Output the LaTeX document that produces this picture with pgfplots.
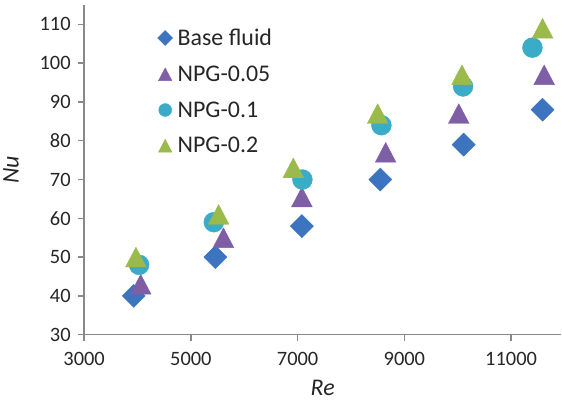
\documentclass[border=0pt]{standalone}
\usepackage{fontspec}
\setmainfont{Carlito}
\usepackage{pgfplots}
\pgfplotsset{compat=1.18}
\definecolor{cBase}{HTML}{3C74C0}
\definecolor{cP}{HTML}{7E5FA6}
\definecolor{cC}{HTML}{3BACC8}
\definecolor{cG}{HTML}{9ABA4C}
\definecolor{axgray}{HTML}{898989}
\definecolor{txt}{HTML}{262626}
\begin{document}
\begin{tikzpicture}
\begin{axis}[
  scale only axis,
  width=479pt, height=331pt,
  xmin=3000, xmax=11940,
  ymin=30, ymax=115,
  xtick={3000,5000,7000,9000,11000},
  ytick={30,40,...,110},
  scaled x ticks=false, scaled y ticks=false,
  axis x line=bottom, axis y line=left,
  axis line style={-, draw=axgray, line width=1.5pt},
  tick style={draw=axgray, line width=1.5pt},
  tick align=outside,
  major tick length=6pt,
  /pgf/number format/assume math mode=true,
  /pgf/number format/set thousands separator={},
  tick label style={font=\fontsize{20.5}{22}\selectfont, text=txt},
  xticklabel style={yshift=-8pt},
  yticklabel style={xshift=-4pt},
  xlabel={\textit{Re}}, ylabel={\textit{Nu}},
  label style={font=\fontsize{24}{26}\selectfont, text=txt},
  xlabel style={yshift=-8pt},
  ylabel style={yshift=14pt},
  legend style={at={(rel axis cs:0.1475,0.94)}, anchor=north west, draw=none, fill=none,
    font=\fontsize{24}{26}\selectfont, text=txt, row sep=14.8pt,
    /tikz/every odd column/.append style={column sep=3pt}},
  legend cell align=left,
  legend image post style={scale=0.65},
]
\addplot[only marks, mark=square*, mark size=8.2pt, mark options={rotate=45, draw=cBase, fill=cBase}]
 coordinates {(3930,40) (5460,50) (7080,58) (8550,70) (10110,79) (11590,88)};
\addlegendentry{Base fluid}
\addplot[only marks, mark=triangle*, mark size=12pt, mark options={yshift=-3.3pt, yscale=1.1, draw=cP, fill=cP}]
 coordinates {(4060,43) (5610,55) (7080,65.5) (8650,77) (10020,87) (11620,97)};
\addlegendentry{NPG-0.05}
\addplot[only marks, mark=*, mark size=10pt, mark options={draw=cC, fill=cC}]
 coordinates {(4030,48) (5430,59) (7090,70) (8570,84) (10100,94) (11400,104)};
\addlegendentry{NPG-0.1}
\addplot[only marks, mark=triangle*, mark size=12pt, mark options={yshift=-3.3pt, yscale=1.1, draw=cG, fill=cG}]
 coordinates {(3970,50) (5520,61) (6920,73) (8500,87) (10080,97) (11590,109)};
\addlegendentry{NPG-0.2}
\end{axis}
\path (current axis.origin) ++(-83pt,-66pt) rectangle ++(562pt,402pt);
\end{tikzpicture}
\end{document}
